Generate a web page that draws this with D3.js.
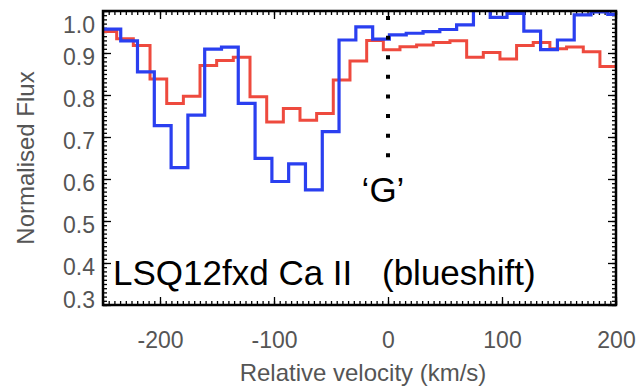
<!DOCTYPE html>
<meta charset="utf-8">
<style>
body { margin: 0; background: #fff; }
text { font-family: "Liberation Sans", Arial, Helvetica, sans-serif; }
.axis path { display: none; }
.axis line { stroke: #000; stroke-width: 1.3px; }
.axis text { font-size: 23px; fill: #555; }
.title { font-size: 24px; fill: #555; }
.note { font-size: 35px; fill: #000; }
</style>
<svg width="639" height="390"></svg>
<script src="https://d3js.org/d3.v7.min.js"></script>
<script>

// red spectrum: bin centres (km/s) and normalised flux
var redVel = [-245.3, -230.7, -216.1, -201.4, -186.8, -172.2, -157.6, -143.0, -128.4, -113.7,
              -99.1, -84.5, -69.9, -55.3, -40.7, -26.0, -11.4, 3.2, 17.8, 32.4,
              47.0, 61.7, 76.3, 90.9, 105.5, 120.1, 134.7, 149.3, 164.0, 178.6, 193.2];
var redFlux = [0.951, 0.934, 0.918, 0.838, 0.780, 0.797, 0.870, 0.882, 0.890, 0.796,
               0.736, 0.768, 0.740, 0.756, 0.836, 0.881, 0.930, 0.908, 0.915, 0.919,
               0.925, 0.929, 0.890, 0.901, 0.886, 0.918, 0.925, 0.910, 0.914, 0.903, 0.868];

// blue spectrum
var blueVel = [-241.8, -227.1, -212.4, -197.6, -182.9, -168.2, -153.4, -138.7, -124.0, -109.2,
               -94.5, -79.8, -65.0, -50.3, -35.6, -20.8, -6.1, 8.6, 23.4, 38.1,
               52.8, 67.6, 82.3, 97.0, 111.8, 126.5, 141.2, 156.0, 170.7, 185.4, 200.2];
var blueFlux = [0.957, 0.929, 0.855, 0.727, 0.627, 0.752, 0.909, 0.914, 0.780, 0.649,
                0.594, 0.636, 0.574, 0.713, 0.931, 0.962, 0.933, 0.943, 0.947, 0.951,
                0.956, 0.967, 1.004, 0.985, 0.994, 0.952, 0.908, 0.931, 0.991, 0.998, 0.992];

var xTicks = [-200, -100, 0, 100, 200];
var yTicks = [0.3, 0.4, 0.5, 0.6, 0.7, 0.8, 0.9, 1.0];

// dotted marker at v = 0
var markerVel = 0, markerTop = 0.988, markerBottom = 0.648;

var svg = d3.select("svg"),
    margin = {top: 11, right: 23, bottom: 85, left: 103},
    width = +svg.attr("width") - margin.left - margin.right,
    height = +svg.attr("height") - margin.top - margin.bottom;

var x = d3.scaleLinear().domain([-250, 200]).range([0, width]),
    y = d3.scaleLinear().domain([0.3, 1.0]).range([height, 0]);

var g = svg.append("g")
    .attr("transform", "translate(" + margin.left + "," + margin.top + ")");

g.append("clipPath").attr("id", "clip")
  .append("rect").attr("width", width).attr("height", height);

// minor ticks
var xMinor = d3.range(-250, 200.01, 5),
    yMinor = d3.range(30, 100.01, 1).map(function(d) { return d / 100; });

g.append("g").attr("class", "axis")
    .attr("transform", "translate(0," + height + ")")
    .call(d3.axisBottom(x).tickValues(xMinor).tickSize(-4).tickFormat(""));
g.append("g").attr("class", "axis")
    .call(d3.axisTop(x).tickValues(xMinor).tickSize(-4).tickFormat(""));
g.append("g").attr("class", "axis")
    .call(d3.axisLeft(y).tickValues(yMinor).tickSize(-4).tickFormat(""));
g.append("g").attr("class", "axis")
    .attr("transform", "translate(" + width + ",0)")
    .call(d3.axisRight(y).tickValues(yMinor).tickSize(-4).tickFormat(""));

// major ticks
g.append("g").attr("class", "axis")
    .attr("transform", "translate(0," + height + ")")
    .call(d3.axisBottom(x).tickValues(xTicks).tickSize(-8).tickPadding(27)
      .tickFormat(function(d) { return String(d); }));
g.append("g").attr("class", "axis")
    .call(d3.axisTop(x).tickValues(xTicks).tickSize(-8).tickFormat(""));
g.append("g").attr("class", "axis axis--y")
    .call(d3.axisLeft(y).tickValues(yTicks).tickSize(-8).tickPadding(8).tickFormat(d3.format(".1f")));
g.append("g").attr("class", "axis")
    .attr("transform", "translate(" + width + ",0)")
    .call(d3.axisRight(y).tickValues(yTicks).tickSize(-8).tickFormat(""));

// end labels pulled inside like the original
g.selectAll(".axis--y text").attr("y", function(d) {
  var p = y(d);
  return Math.min(Math.max(p + 4, 14), height - 5) - p;
});

g.selectAll(".axis text").attr("fill", "#555");

// spectra as histograms
var line = d3.line()
    .x(function(d) { return x(d[0]); })
    .y(function(d) { return y(d[1]); })
    .curve(d3.curveStep);

function steps(vel, flux) {
  var pts = vel.map(function(v, i) { return [v, flux[i]]; });
  pts.unshift([x.domain()[0], flux[0]]);
  if (vel[vel.length - 1] < x.domain()[1]) pts.push([x.domain()[1], flux[flux.length - 1]]);
  return pts;
}

var plot = g.append("g").attr("clip-path", "url(#clip)");

plot.append("path")
    .datum(steps(redVel, redFlux))
    .attr("fill", "none")
    .attr("stroke", "#ee4a3e")
    .attr("stroke-width", 3)
    .attr("d", line);

plot.append("path")
    .datum(steps(blueVel, blueFlux))
    .attr("fill", "none")
    .attr("stroke", "#2a3ff0")
    .attr("stroke-width", 3.2)
    .attr("d", line);

// dotted marker line
g.append("line")
    .attr("x1", x(markerVel)).attr("x2", x(markerVel))
    .attr("y1", y(markerTop)).attr("y2", y(markerBottom))
    .attr("stroke", "#000")
    .attr("stroke-width", 4)
    .attr("stroke-dasharray", "4 15.6");

g.append("text")
    .attr("class", "note")
    .attr("x", x(markerVel) - 5)
    .attr("y", 191)
    .attr("text-anchor", "middle")
    .text("\u2018G\u2019");

var label = g.append("text")
    .attr("class", "note")
    .attr("y", 274);
label.append("tspan").attr("x", 10).text("LSQ12fxd Ca II");
label.append("tspan").attr("x", 279).text("(blueshift)");

// frame
g.append("rect")
    .attr("width", width)
    .attr("height", height)
    .attr("fill", "none")
    .attr("stroke", "#000")
    .attr("stroke-width", 2.5);

// axis titles
svg.append("text")
    .attr("class", "title")
    .attr("x", 363)
    .attr("y", 381)
    .attr("text-anchor", "middle")
    .text("Relative velocity (km/s)");

svg.append("text")
    .attr("class", "title")
    .attr("transform", "translate(34,158) rotate(-90)")
    .attr("text-anchor", "middle")
    .text("Normalised Flux");

</script>
